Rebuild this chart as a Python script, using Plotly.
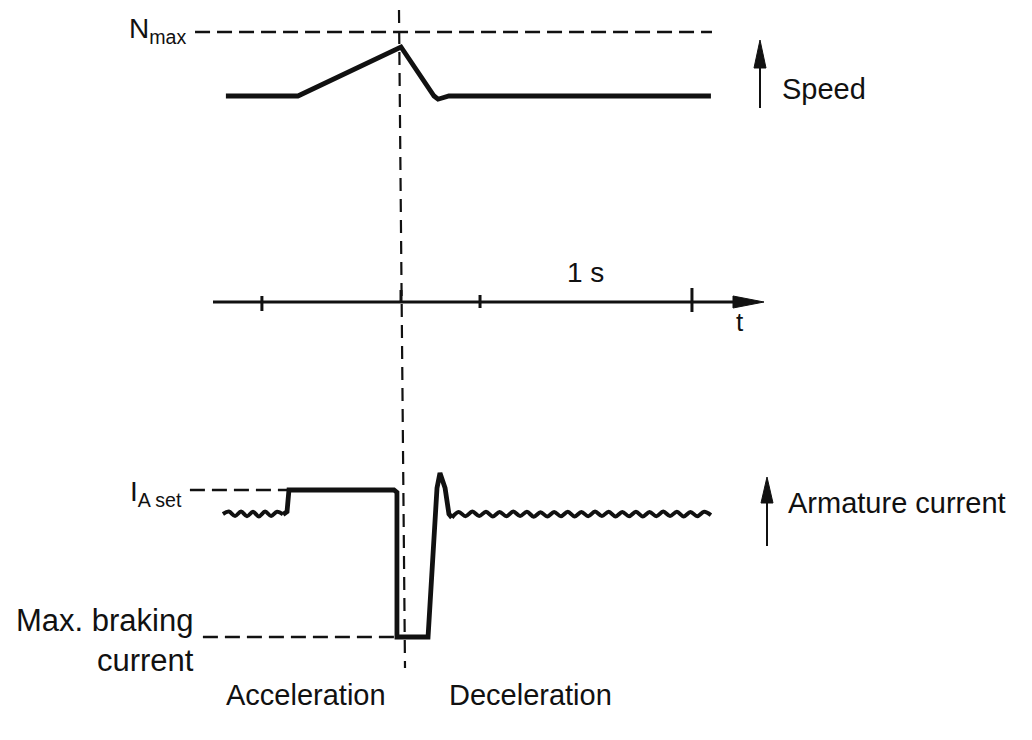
import plotly.graph_objects as go

W, H = 1032, 740
T0_PX, PX_PER_S = 401, 213          # pixel of t=0 and pixels per second
SPEED_BASE_PX, SPEED_UNIT_PX = 96, 64
CUR_BASE_PX, CUR_UNIT_PX = 514, 24
AXIS_PX = 302

# ---------------- data ----------------
# speed (0 = steady speed, 1 = N_max), time in s (0 = start of deceleration)
speed_t = [-0.822, -0.484, 0.0, 0.155, 0.174, 0.200, 0.225, 1.455]
speed_v = [0.0, 0.0, 0.766, 0.0, -0.05, -0.03, 0.0, 0.0]

# armature current (0 = steady load current, 1 = I_A set)
ripple_left_t = [-0.836, -0.808, -0.779, -0.751, -0.723, -0.695, -0.667, -0.638, -0.610, -0.582, -0.554]
ripple_left_v = [0.0, 0.1, -0.08, 0.1, -0.09, 0.09, -0.1, 0.1, -0.08, 0.09, -0.02]
current_t = [-0.554, -0.535, -0.526, -0.033, -0.019, -0.019, 0.127, 0.169, 0.183, 0.207, 0.225, 0.239]
current_v = [-0.02, 0.1, 1.0, 1.0, 0.9, -5.125, -5.125, 1.08, 1.71, 1.08, 0.0, -0.15]
ripple_right_t = [0.239, 0.271, 0.303, 0.335, 0.367, 0.399, 0.431, 0.463, 0.495, 0.527,
                  0.559, 0.591, 0.623, 0.655, 0.687, 0.719, 0.751, 0.783, 0.815, 0.847,
                  0.879, 0.911, 0.943, 0.975, 1.007, 1.039, 1.071, 1.103, 1.135, 1.167,
                  1.199, 1.231, 1.263, 1.295, 1.327, 1.359, 1.391, 1.423, 1.455]
ripple_right_v = [-0.15, 0.08, -0.09, 0.1, -0.08, 0.09, -0.1, 0.08, -0.09, 0.1,
                  -0.08, 0.09, -0.11, 0.07, -0.1, 0.08, -0.09, 0.09, -0.1, 0.08,
                  -0.09, 0.1, -0.08, 0.09, -0.1, 0.08, -0.09, 0.09, -0.1, 0.08,
                  -0.09, 0.1, -0.08, 0.09, -0.1, 0.08, -0.09, 0.09, -0.05]

# reference levels
N_MAX = 1.0
I_SET = 1.0
I_BRAKE_MAX = -5.125
nmax_ref_t = [-0.967, 1.460]
iset_ref_t = [-0.991, -0.535]
ibrake_ref_t = [-0.930, -0.019]

# time axis
tick_t = [-0.653, 0.0, 0.371, 1.366]
tick_top_px = [296, 290, 295, 288]
tick_bot_px = [311, 302, 308, 312]
one_s_span = [0.371, 1.366]

# --------------- helpers ---------------
def px_x(px):
    return px / W

def px_y(py):
    return 1 - py / H

x_range = [(0 - T0_PX) / PX_PER_S, (W - T0_PX) / PX_PER_S]
speed_range = [(SPEED_BASE_PX - H) / SPEED_UNIT_PX, SPEED_BASE_PX / SPEED_UNIT_PX]
cur_range = [(CUR_BASE_PX - H) / CUR_UNIT_PX, CUR_BASE_PX / CUR_UNIT_PX]

BLACK = "#111111"
FONT = "Liberation Sans, Arial, sans-serif"
LW = 4.8
DASH = "15px,7px"

fig = go.Figure()

# reference dashed lines
fig.add_trace(go.Scatter(x=nmax_ref_t, y=[N_MAX, N_MAX], mode="lines", yaxis="y",
                         line=dict(color=BLACK, width=2.5, dash=DASH), hoverinfo="skip"))
fig.add_trace(go.Scatter(x=iset_ref_t, y=[I_SET, I_SET], mode="lines", yaxis="y2",
                         line=dict(color=BLACK, width=2.5, dash=DASH), hoverinfo="skip"))
fig.add_trace(go.Scatter(x=ibrake_ref_t, y=[I_BRAKE_MAX, I_BRAKE_MAX], mode="lines", yaxis="y2",
                         line=dict(color=BLACK, width=2.5, dash=DASH), hoverinfo="skip"))

# speed curve
fig.add_trace(go.Scatter(x=speed_t, y=speed_v, mode="lines", yaxis="y",
                         line=dict(color=BLACK, width=LW), hoverinfo="skip"))
# current curve
fig.add_trace(go.Scatter(x=ripple_left_t, y=ripple_left_v, mode="lines", yaxis="y2",
                         line=dict(color=BLACK, width=LW - 0.8, shape="spline"), hoverinfo="skip"))
fig.add_trace(go.Scatter(x=current_t, y=current_v, mode="lines", yaxis="y2",
                         line=dict(color=BLACK, width=LW), hoverinfo="skip"))
fig.add_trace(go.Scatter(x=ripple_right_t, y=ripple_right_v, mode="lines", yaxis="y2",
                         line=dict(color=BLACK, width=LW - 0.8, shape="spline"), hoverinfo="skip"))

# time-axis tick marks (through the x scale)
for t, a, b in zip(tick_t, tick_top_px, tick_bot_px):
    fig.add_shape(type="line", xref="x", yref="paper", x0=t, x1=t, y0=px_y(a), y1=px_y(b),
                  line=dict(color=BLACK, width=3))

shapes = []
# time axis line + arrow head
shapes.append(dict(type="line", xref="paper", yref="paper", x0=px_x(213), x1=px_x(740),
                   y0=px_y(AXIS_PX), y1=px_y(AXIS_PX), line=dict(color=BLACK, width=3)))
shapes.append(dict(type="path", xref="paper", yref="paper",
                   path=f"M {px_x(733)} {px_y(AXIS_PX-6)} L {px_x(764)} {px_y(AXIS_PX)} L {px_x(733)} {px_y(AXIS_PX+6)} Z",
                   fillcolor=BLACK, line=dict(color=BLACK, width=1)))
# vertical dashed line at start of deceleration
shapes.append(dict(type="line", xref="paper", yref="paper", x0=px_x(399), x1=px_x(405),
                   y0=px_y(10), y1=px_y(668), line=dict(color=BLACK, width=2.2, dash="13px,8px")))
# quantity arrows
for ax_px, tip, base, bottom in [(760, 40, 68, 108), (767, 477, 503, 546)]:
    shapes.append(dict(type="line", xref="paper", yref="paper", x0=px_x(ax_px), x1=px_x(ax_px),
                       y0=px_y(base - 2), y1=px_y(bottom), line=dict(color=BLACK, width=2)))
    shapes.append(dict(type="path", xref="paper", yref="paper",
                       path=f"M {px_x(ax_px-6)} {px_y(base)} L {px_x(ax_px)} {px_y(tip)} L {px_x(ax_px+6)} {px_y(base)} Z",
                       fillcolor=BLACK, line=dict(color=BLACK, width=1)))
for s in shapes:
    fig.add_shape(**s)

def label(text, x, y, xanchor="left", yanchor="middle", size=29, align="left"):
    fig.add_annotation(text=text, xref="paper", yref="paper", x=px_x(x), y=px_y(y),
                       xanchor=xanchor, yanchor=yanchor, showarrow=False, align=align,
                       font=dict(family=FONT, size=size, color=BLACK))

label("N<sub>max</sub>", 188, 30, xanchor="right", size=28)
label("I<sub>A set</sub>", 184, 494, xanchor="right", size=28)
label("Speed", 780, 89)
label("Armature current", 786, 503)
label("Max. braking<br>current", 196, 640, xanchor="right", size=31, align="right")
label("Acceleration", 306, 695, xanchor="center")
label("Deceleration", 530, 695, xanchor="center")
label("1 s", (T0_PX + PX_PER_S * (one_s_span[0] + one_s_span[1]) / 2), 272, xanchor="center", size=28)
label("t", 740, 322, xanchor="center", size=26)

fig.update_layout(
    width=W, height=H, margin=dict(l=0, r=0, t=0, b=0),
    paper_bgcolor="white", plot_bgcolor="white", showlegend=False,
    xaxis=dict(range=x_range, visible=False, domain=[0, 1]),
    yaxis=dict(range=speed_range, visible=False, domain=[0, 1]),
    yaxis2=dict(range=cur_range, visible=False, overlaying="y"),
)

fig.write_html("out.html", config={"displayModeBar": False},
               post_script="document.body.style.margin='0';document.body.style.overflow='hidden';")
